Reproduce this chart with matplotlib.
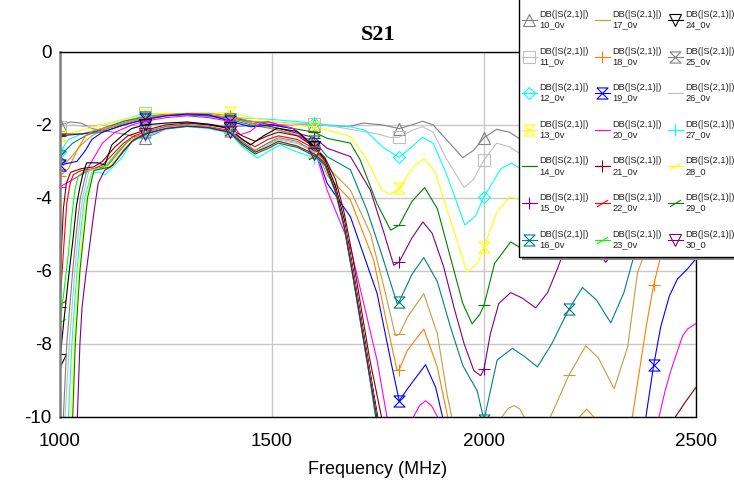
import matplotlib.pyplot as plt
from matplotlib.path import Path
from matplotlib.patches import Rectangle

plt.rcParams['font.family'] = ['Liberation Sans', 'DejaVu Sans']
plt.rcParams['axes.unicode_minus'] = False

# S21 curves, (frequency MHz, dB); values below -10 are off-chart
s10 = [(1000, -2.0), (1025, -1.92), (1050, -1.95), (1075, -2.1), (1100, -2.15), (1150, -2.25), (1175, -2.32),
       (1200, -2.35), (1225, -2.25), (1250, -2.1), (1300, -1.95), (1350, -1.98), (1400, -2.05), (1450, -2.02),
       (1500, -2.0), (1550, -2.0), (1600, -2.0), (1640, -2.02), (1680, -2.05), (1715, -1.95), (1760, -2.0),
       (1800, -2.1), (1830, -2.0), (1855, -1.9), (1880, -2.0), (1915, -2.45), (1950, -2.9), (1975, -2.7),
       (2000, -2.35), (2030, -2.12), (2060, -2.2), (2100, -2.5), (2150, -2.6), (2200, -2.3), (2250, -2.2),
       (2300, -2.5), (2350, -2.6), (2400, -2.3), (2450, -2.2), (2500, -2.4)]
s11 = [(1000, -2.05), (1030, -2.0), (1060, -2.05), (1100, -2.0), (1150, -1.85), (1200, -1.68), (1250, -1.7),
       (1300, -1.72), (1350, -1.78), (1400, -1.85), (1450, -1.9), (1500, -1.92), (1550, -1.95), (1600, -1.97),
       (1650, -2.05), (1700, -2.15), (1750, -2.25), (1780, -2.35), (1800, -2.34), (1830, -2.15), (1855, -2.05),
       (1880, -2.2), (1910, -2.9), (1953, -3.72), (1975, -3.5), (2000, -2.96), (2030, -2.5), (2060, -2.6),
       (2100, -2.9), (2150, -3.1), (2200, -2.7), (2250, -2.5), (2300, -2.8), (2350, -3.0), (2400, -2.7),
       (2450, -2.6), (2500, -2.9)]
s12 = [(1000, -2.75), (1020, -2.4), (1050, -2.25), (1100, -2.1), (1150, -1.9), (1200, -1.75), (1250, -1.7),
       (1300, -1.72), (1350, -1.75), (1400, -1.8), (1450, -1.82), (1500, -1.85), (1550, -1.9), (1600, -1.95),
       (1630, -2.0), (1685, -2.05), (1720, -2.15), (1760, -2.6), (1800, -2.89), (1830, -2.6), (1855, -2.34),
       (1880, -2.5), (1910, -3.3), (1955, -4.75), (1980, -4.5), (2000, -3.97), (2040, -3.2), (2065, -3.05),
       (2100, -3.3), (2150, -3.8), (2200, -3.4), (2250, -3.0), (2300, -3.3), (2350, -3.9), (2400, -3.5),
       (2450, -3.1), (2500, -3.4)]
s13 = [(1000, -2.3), (1050, -2.15), (1100, -2.0), (1150, -1.85), (1200, -1.72), (1250, -1.68), (1300, -1.7),
       (1350, -1.7), (1400, -1.65), (1450, -1.8), (1500, -1.9), (1550, -2.0), (1600, -2.05), (1630, -2.14),
       (1685, -2.32), (1720, -2.87), (1760, -3.8), (1780, -3.9), (1800, -3.74), (1830, -3.2), (1858, -2.92),
       (1885, -3.3), (1915, -4.4), (1960, -6.04), (1985, -5.8), (2000, -5.35), (2030, -4.4), (2060, -3.97),
       (2100, -4.1), (2150, -4.8), (2200, -4.4), (2250, -3.8), (2300, -4.0), (2350, -4.9), (2400, -4.5),
       (2450, -3.9), (2500, -4.1)]
s14 = [(1000, -2.25), (1050, -2.25), (1100, -2.2), (1150, -2.0), (1200, -1.85), (1250, -1.75), (1300, -1.72),
       (1350, -1.75), (1400, -1.8), (1450, -1.9), (1500, -2.0), (1550, -2.1), (1600, -2.2), (1630, -2.37),
       (1685, -2.5), (1708, -2.96), (1748, -4.17), (1780, -4.89), (1800, -4.75), (1830, -4.1), (1860, -3.72),
       (1890, -4.3), (1920, -5.6), (1950, -6.9), (1972, -7.46), (1990, -7.2), (2000, -6.95), (2025, -5.8),
       (2063, -5.21), (2090, -5.4), (2110, -5.5), (2150, -5.0), (2200, -4.6), (2250, -5.0), (2300, -5.3),
       (2350, -4.9), (2400, -4.5), (2450, -4.8), (2500, -5.0)]
s15 = [(1000, -2.3), (1050, -2.25), (1100, -2.15), (1150, -1.95), (1200, -1.8), (1250, -1.72), (1300, -1.7),
       (1350, -1.72), (1400, -1.8), (1450, -1.95), (1500, -2.05), (1550, -2.2), (1600, -2.35), (1630, -2.64),
       (1685, -2.87), (1732, -3.79), (1765, -5.0), (1787, -5.85), (1800, -5.76), (1830, -5.1), (1856, -4.66),
       (1878, -4.98), (1905, -5.9), (1929, -7.0), (1953, -8.0), (1976, -8.74), (1992, -8.88), (2000, -8.7),
       (2015, -7.73), (2035, -6.9), (2063, -6.6), (2090, -6.75), (2122, -7.02), (2150, -6.6), (2173, -5.95),
       (2185, -5.58), (2200, -5.2), (2220, -5.0), (2250, -5.2), (2287, -5.77), (2320, -5.3), (2350, -4.8),
       (2400, -4.5), (2450, -4.9), (2500, -5.0)]
s16 = [(1000, -2.85), (1030, -2.5), (1060, -2.3), (1100, -2.1), (1150, -1.9), (1200, -1.78), (1250, -1.72),
       (1300, -1.72), (1350, -1.75), (1400, -1.85), (1450, -2.0), (1500, -2.1), (1550, -2.25), (1600, -2.45),
       (1630, -2.87), (1685, -3.23), (1724, -4.34), (1760, -5.6), (1795, -6.9), (1800, -6.85), (1830, -6.1),
       (1858, -5.64), (1890, -6.3), (1921, -7.55), (1950, -8.6), (1984, -9.3), (2000, -10.1), (2031, -8.45),
       (2067, -8.13), (2095, -8.35), (2126, -8.64), (2160, -8.0), (2200, -7.06), (2232, -6.46), (2265, -6.8),
       (2299, -7.43), (2330, -6.6), (2354, -5.58), (2400, -4.3), (2450, -3.8), (2500, -3.6)]
s17 = [(1000, -3.2), (1025, -2.9), (1050, -2.55), (1075, -2.3), (1100, -2.15), (1150, -1.95), (1200, -1.8),
       (1250, -1.72), (1300, -1.7), (1350, -1.72), (1400, -1.8), (1450, -1.95), (1500, -2.1), (1550, -2.25),
       (1600, -2.5), (1630, -3.15), (1685, -3.79), (1732, -4.98), (1764, -6.45), (1791, -7.78), (1800, -7.75),
       (1819, -7.28), (1858, -6.63), (1890, -7.73), (1913, -9.4), (1929, -10.3), (1960, -11.5), (2000, -11.5),
       (2030, -10.8), (2043, -10.0), (2057, -9.78), (2071, -9.7), (2085, -9.8), (2094, -10.0), (2120, -11.0),
       (2157, -10.0), (2180, -9.4), (2200, -8.87), (2240, -8.06), (2270, -8.4), (2307, -9.24), (2339, -8.08),
       (2362, -6.05), (2378, -5.56), (2400, -4.8), (2450, -4.0), (2500, -3.6)]
s18 = [(1000, -3.4), (1020, -3.2), (1040, -2.7), (1060, -2.3), (1080, -2.15), (1100, -2.1), (1150, -1.95),
       (1200, -1.8), (1250, -1.72), (1300, -1.68), (1350, -1.68), (1400, -1.75), (1450, -1.9), (1500, -1.95),
       (1550, -2.1), (1600, -2.55), (1630, -3.38), (1685, -4.06), (1740, -5.72), (1771, -7.46), (1795, -8.74),
       (1800, -8.72), (1819, -8.19), (1858, -7.6), (1890, -8.65), (1913, -9.94), (1940, -11.5), (2000, -12.0),
       (2100, -12.0), (2200, -11.0), (2222, -10.05), (2242, -9.8), (2262, -10.05), (2290, -11.0), (2350, -10.0),
       (2383, -7.5), (2400, -6.4), (2417, -5.6), (2450, -4.6), (2500, -3.9)]
s19 = [(1000, -3.1), (1040, -3.0), (1060, -2.7), (1075, -2.4), (1100, -2.2), (1150, -2.0), (1200, -1.85),
       (1250, -1.75), (1300, -1.7), (1350, -1.72), (1400, -1.9), (1450, -2.05), (1500, -2.0), (1550, -2.1),
       (1600, -2.6), (1630, -3.6), (1685, -4.52), (1748, -6.63), (1780, -8.47), (1800, -9.57), (1819, -9.25),
       (1862, -8.58), (1886, -9.2), (1902, -10.0), (1930, -11.5), (2000, -12.0), (2200, -12.0), (2350, -11.5),
       (2382, -10.0), (2400, -8.6), (2417, -7.53), (2437, -6.7), (2456, -6.23), (2480, -5.95), (2500, -5.67)]
s20 = [(1000, -3.7), (1030, -3.5), (1060, -3.3), (1080, -2.9), (1100, -2.5), (1130, -2.2), (1170, -2.0),
       (1200, -1.9), (1250, -1.8), (1300, -1.75), (1350, -1.8), (1400, -1.9), (1425, -2.27), (1449, -2.18),
       (1472, -1.95), (1490, -1.91), (1550, -2.1), (1600, -2.65), (1630, -3.79), (1685, -5.35), (1748, -8.47),
       (1771, -10.0), (1800, -11.2), (1834, -10.0), (1848, -9.7), (1862, -9.57), (1876, -9.7), (1890, -10.0),
       (1920, -11.5), (2000, -12.0), (2200, -12.0), (2400, -11.0), (2413, -10.0), (2427, -9.3), (2441, -8.73),
       (2468, -7.8), (2480, -7.6), (2500, -7.45)]
s21 = [(1000, -7.0), (1003, -5.5), (1008, -4.3), (1015, -3.6), (1025, -3.3), (1050, -3.2), (1080, -3.15),
       (1100, -3.0), (1130, -2.6), (1160, -2.3), (1200, -2.15), (1250, -2.0), (1300, -1.95), (1350, -2.0),
       (1400, -2.1), (1430, -2.3), (1460, -2.45), (1490, -2.3), (1515, -2.2), (1560, -2.3), (1600, -2.6),
       (1625, -2.9), (1650, -3.5), (1670, -4.4), (1690, -5.6), (1710, -7.0), (1730, -8.4), (1758, -10.0),
       (1780, -11.5), (1800, -12.0), (2000, -12.0), (2200, -12.0), (2400, -11.0), (2452, -10.0), (2475, -9.6),
       (2500, -9.2)]
s22 = [(1000, -6.9), (1008, -5.5), (1016, -4.15), (1024, -3.6), (1031, -3.37), (1050, -3.25), (1080, -3.2),
       (1100, -3.1), (1125, -2.8), (1150, -2.5), (1175, -2.3), (1200, -2.2), (1250, -2.05), (1300, -2.0),
       (1350, -2.05), (1400, -2.15), (1430, -2.4), (1460, -2.6), (1490, -2.4), (1515, -2.3), (1560, -2.4),
       (1600, -2.65), (1625, -3.0), (1650, -3.7), (1670, -4.6), (1690, -5.9), (1710, -7.3), (1730, -8.7),
       (1752, -10.2), (1780, -12.0), (1800, -12.0), (2000, -12.0), (2200, -12.0), (2400, -12.0), (2500, -12.0)]
s23 = [(1000, -7.4), (1008, -6.7), (1020, -5.5), (1028, -4.5), (1035, -3.8), (1043, -3.4), (1060, -3.25),
       (1090, -3.2), (1110, -3.1), (1135, -2.75), (1160, -2.45), (1200, -2.25), (1250, -2.1), (1300, -2.02),
       (1350, -2.05), (1400, -2.2), (1430, -2.5), (1460, -2.7), (1490, -2.5), (1515, -2.4), (1560, -2.5),
       (1600, -2.7), (1625, -3.1), (1650, -3.85), (1670, -4.8), (1690, -6.1), (1710, -7.5), (1730, -8.9),
       (1748, -10.2), (1780, -12.0), (1800, -12.0), (2000, -12.0), (2200, -12.0), (2400, -12.0), (2500, -12.0)]
s24 = [(1000, -8.45), (1008, -7.5), (1020, -6.2), (1031, -5.1), (1039, -4.2), (1047, -3.7), (1055, -3.3),
       (1063, -3.04), (1088, -3.04), (1106, -3.1), (1122, -2.55), (1146, -2.3), (1169, -2.1), (1200, -2.0),
       (1250, -1.95), (1300, -1.92), (1350, -1.98), (1400, -2.09), (1425, -2.35), (1449, -2.55), (1480, -2.3),
       (1512, -2.09), (1560, -2.18), (1600, -2.6), (1625, -2.95), (1650, -3.7), (1670, -4.6), (1690, -5.9),
       (1710, -7.3), (1730, -8.7), (1750, -10.1), (1780, -12.0), (1800, -12.0), (2000, -12.0), (2200, -12.0),
       (2400, -12.0), (2500, -12.0)]
s25 = [(1000, -11.0), (1008, -10.0), (1016, -8.0), (1030, -6.0), (1038, -5.0), (1048, -4.0), (1062, -3.3),
       (1080, -3.2), (1110, -3.15), (1135, -2.8), (1160, -2.45), (1200, -2.2), (1250, -2.05), (1300, -2.0),
       (1350, -2.05), (1400, -2.18), (1430, -2.45), (1460, -2.7), (1490, -2.5), (1515, -2.35), (1560, -2.45),
       (1600, -2.75), (1625, -3.05), (1650, -3.8), (1670, -4.7), (1690, -6.0), (1710, -7.4), (1730, -8.8),
       (1750, -10.2), (1780, -12.0), (1800, -12.0), (2000, -12.0), (2200, -12.0), (2400, -12.0), (2500, -12.0)]
s26 = [(1000, -12.0), (1012, -10.0), (1022, -8.0), (1035, -6.0), (1043, -5.0), (1053, -4.0), (1068, -3.25),
       (1090, -3.2), (1115, -3.2), (1140, -2.85), (1165, -2.5), (1200, -2.25), (1250, -2.08), (1300, -2.02),
       (1350, -2.06), (1400, -2.2), (1430, -2.5), (1460, -2.75), (1490, -2.55), (1515, -2.4), (1560, -2.5),
       (1600, -2.75), (1625, -3.05), (1650, -3.8), (1670, -4.7), (1690, -6.0), (1710, -7.4), (1730, -8.8),
       (1750, -10.2), (1780, -12.0), (1800, -12.0), (2000, -12.0), (2200, -12.0), (2400, -12.0), (2500, -12.0)]
s27 = [(1000, -12.0), (1020, -10.0), (1028, -8.0), (1040, -6.0), (1048, -5.0), (1058, -4.0), (1075, -3.3),
       (1095, -3.3), (1106, -3.37), (1125, -3.15), (1146, -2.9), (1169, -2.46), (1200, -2.3), (1250, -2.12),
       (1300, -2.05), (1350, -2.1), (1400, -2.23), (1430, -2.6), (1465, -2.91), (1495, -2.7), (1520, -2.55),
       (1556, -2.73), (1600, -2.9), (1625, -3.1), (1650, -3.85), (1670, -4.8), (1690, -6.1), (1710, -7.5),
       (1730, -8.9), (1745, -10.1), (1780, -12.0), (1800, -12.0), (2000, -12.0), (2200, -12.0), (2400, -12.0),
       (2500, -12.0)]
s28 = [(1000, -12.0), (1026, -10.0), (1033, -8.0), (1044, -6.0), (1052, -5.0), (1062, -4.0), (1078, -3.25),
       (1100, -3.2), (1120, -3.1), (1145, -2.75), (1170, -2.4), (1200, -2.25), (1250, -2.1), (1300, -2.03),
       (1350, -2.08), (1400, -2.2), (1430, -2.55), (1460, -2.8), (1490, -2.6), (1515, -2.45), (1560, -2.6),
       (1600, -2.8), (1625, -3.05), (1650, -3.8), (1670, -4.75), (1690, -6.05), (1710, -7.45), (1730, -8.85),
       (1748, -10.1), (1780, -12.0), (1800, -12.0), (2000, -12.0), (2200, -12.0), (2400, -12.0), (2500, -12.0)]
s29 = [(1000, -12.0), (1030, -10.0), (1036, -8.0), (1047, -6.0), (1056, -5.0), (1065, -4.0), (1080, -3.25),
       (1100, -3.2), (1120, -3.15), (1145, -2.8), (1170, -2.45), (1200, -2.25), (1250, -2.1), (1300, -2.04),
       (1350, -2.08), (1400, -2.2), (1430, -2.55), (1460, -2.8), (1490, -2.65), (1515, -2.5), (1560, -2.62),
       (1600, -2.85), (1625, -3.1), (1650, -3.85), (1670, -4.8), (1690, -6.1), (1710, -7.5), (1730, -8.9),
       (1746, -10.1), (1780, -12.0), (1800, -12.0), (2000, -12.0), (2200, -12.0), (2400, -12.0), (2500, -12.0)]
s30 = [(1000, -12.0), (1041, -10.0), (1047, -8.0), (1052, -7.0), (1060, -6.2), (1070, -5.3), (1080, -4.4),
       (1090, -3.6), (1105, -3.25), (1125, -3.1), (1150, -2.7), (1175, -2.4), (1200, -2.25), (1250, -2.1),
       (1300, -2.03), (1350, -2.07), (1400, -2.2), (1430, -2.5), (1460, -2.75), (1490, -2.6), (1515, -2.45),
       (1560, -2.58), (1600, -2.8), (1625, -3.05), (1650, -3.8), (1670, -4.75), (1690, -6.05), (1710, -7.45),
       (1730, -8.85), (1750, -10.2), (1780, -12.0), (1800, -12.0), (2000, -12.0), (2200, -12.0), (2400, -12.0),
       (2500, -12.0)]

curves = [s10, s11, s12, s13, s14, s15, s16, s17, s18, s19, s20,
          s21, s22, s23, s24, s25, s26, s27, s28, s29, s30]
names = ['10_0v', '11_0v', '12_0v', '13_0v', '14_0v', '15_0v', '16_0v', '17_0v', '18_0v', '19_0v', '20_0v',
         '21_0v', '22_0v', '23_0v', '24_0v', '25_0v', '26_0v', '27_0v', '28_0', '29_0', '30_0']
marker_freqs = [1000, 1200, 1400, 1600, 1800, 2000, 2200, 2400]

# marker shapes like the simulator's
hourglass = Path([(-1, 1), (1, 1), (-1, -1), (1, -1), (-1, 1)])
slash = Path([(-0.9, -0.55), (0.9, 0.55)], [Path.MOVETO, Path.LINETO])

colors = ['#808080', '#c0c0c0', '#00ffff', '#ffff00', '#008000', '#800080', '#008080',
          '#c89b3c', '#ff8000', '#0000ff', '#ff00ff', '#800000', '#ff0000', '#00ff00',
          '#000000', '#808080', '#c0c0c0', '#00ffff', '#ffff00', '#008000', '#800080']
markers = ['^', 's', 'D', hourglass, '_', '+', hourglass, '_', '+', hourglass, '_',
           '+', slash, slash, 'v', hourglass, '_', '+', slash, slash, 'v']

fig = plt.figure(figsize=(7.34, 4.84), dpi=100)
ax = fig.add_axes([60 / 734, 1 - 416.5 / 484, 636 / 734, 364.5 / 484])

for s, name, c, m in zip(curves, names, colors, markers):
    f = [p[0] for p in s]
    d = [p[1] for p in s]
    idx = [i for i, x in enumerate(f) if x in marker_freqs]
    ms = 6 if m == 'D' else 8
    ax.plot(f, d, color=c, lw=0.8, marker=m, ms=ms, mfc='none', mec=c, mew=0.8,
            markevery=idx, label='DB(|S(2,1)|)\n' + name)

ax.set_xlim(1000, 2500)
ax.set_ylim(-10, 0)
ax.set_xticks([1000, 1500, 2000, 2500])
ax.set_yticks([0, -2, -4, -6, -8, -10])
ax.tick_params(length=0, labelsize=13.5)
ax.tick_params(axis='x', pad=12)
ax.tick_params(axis='y', pad=6)
ax.grid(color='#c8c8c8', lw=1)
ax.set_axisbelow(True)

for side in ['top', 'right', 'bottom']:
    ax.spines[side].set_color('black')
    ax.spines[side].set_linewidth(1)
ax.spines['left'].set_color('#808080')
ax.spines['left'].set_linewidth(1.8)

ax.set_title('S21', fontfamily='Liberation Serif', fontweight='bold', fontsize=16, pad=9)
ax.set_xlabel('Frequency (MHz)', fontsize=13, labelpad=8)

# legend box runs off the top and right edge of the picture, with a drop shadow
W, H = 734, 484
fig.patches.append(Rectangle((522 / W, 1 - 260 / H), 0.5, 0.6, transform=fig.transFigure,
                             fc='#8a8a8a', ec='none', zorder=3))
fig.patches.append(Rectangle((519 / W, 1 - 257 / H), 0.5, 0.6, transform=fig.transFigure,
                             fc='white', ec='black', lw=1, zorder=4))
handles, labels = ax.get_legend_handles_labels()
leg = fig.legend(handles, labels, ncol=3, loc='upper left', bbox_to_anchor=(522 / W, 1 - 10 / H),
                 fontsize=6.7, frameon=False, borderaxespad=0, borderpad=0,
                 handlelength=1.6, handletextpad=0.3, columnspacing=0.62, labelspacing=1.85,
                 numpoints=1)
leg.set_zorder(5)
for t in leg.get_texts():
    t.set_color('#222222')

fig.savefig('out.png', dpi=100)
